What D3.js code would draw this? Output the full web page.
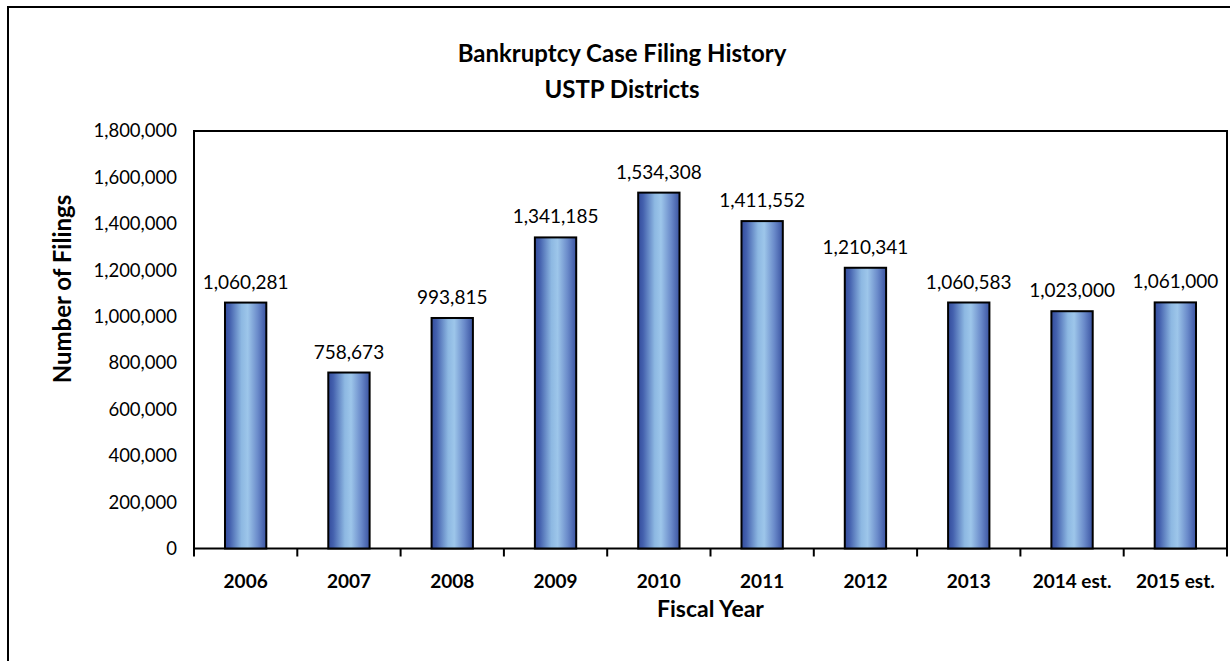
<!DOCTYPE html>
<html>
<head>
<meta charset="utf-8">
<script src="https://cdn.jsdelivr.net/npm/d3@7"></script>
<style>
  body { margin: 0; background: #fff; }
  svg { display: block; font-family: Lato, "Open Sans", sans-serif; }
</style>
</head>
<body>
<svg id="chart" width="1230" height="661"></svg>
<script>
// values
var years = ["2006", "2007", "2008", "2009", "2010", "2011", "2012", "2013", "2014 est.", "2015 est."];
var filings = [1060281, 758673, 993815, 1341185, 1534308, 1411552, 1210341, 1060583, 1023000, 1061000];
var yTicks = [0, 200000, 400000, 600000, 800000, 1000000, 1200000, 1400000, 1600000, 1800000];

var plot = {left: 194, top: 131, right: 1227, bottom: 548.5};

var svg = d3.select("#chart");

// bar gradient, dark edges and light middle
var grad = svg.append("defs").append("linearGradient")
    .attr("id", "barGrad")
    .attr("x1", 0).attr("x2", 1).attr("y1", 0).attr("y2", 0);
[[0, "#334c9c"], [0.12, "#4461ae"], [0.4, "#8db8e2"], [0.55, "#9dc6ea"], [0.8, "#6989c9"], [1, "#3a53a1"]]
    .forEach(function(s) {
        grad.append("stop").attr("offset", s[0]).attr("stop-color", s[1]);
    });

// outer chart border (runs off the page on the right and bottom)
svg.append("rect")
    .attr("x", 8).attr("y", 7)
    .attr("width", 1300).attr("height", 700)
    .attr("fill", "none")
    .attr("stroke", "#000")
    .attr("stroke-width", 2);

var x = d3.scaleBand()
    .domain(years)
    .range([plot.left, plot.right])
    .padding(0);

var y = d3.scaleLinear()
    .domain([0, 1800000])
    .range([plot.bottom, plot.top]);

var barW = x.bandwidth() * 0.4;

// plot area box
svg.append("rect")
    .attr("x", plot.left).attr("y", plot.top)
    .attr("width", plot.right - plot.left)
    .attr("height", plot.bottom - plot.top)
    .attr("fill", "none")
    .attr("stroke", "#000")
    .attr("stroke-width", 2);

// Y axis labels
svg.append("g")
    .attr("transform", "translate(" + plot.left + ",0)")
    .call(d3.axisLeft(y).tickValues(yTicks).tickSize(0).tickPadding(17).tickFormat(d3.format(",")))
    .call(function(g) { g.select(".domain").remove(); })
    .selectAll("text")
    .attr("font-size", 18.5)
    .attr("font-family", "Lato, sans-serif")
    .attr("fill", "#000");

// X axis labels centred in each band
svg.append("g")
    .attr("transform", "translate(0," + plot.bottom + ")")
    .call(d3.axisBottom(x).tickSize(0).tickPadding(26))
    .call(function(g) { g.select(".domain").remove(); })
    .selectAll("text")
    .attr("font-size", 19)
    .attr("font-weight", "bold")
    .attr("font-family", "Lato, sans-serif")
    .attr("fill", "#000");

// tick marks sit on the band boundaries
var bounds = years.map(function(d) { return x(d); }).concat([x(years[years.length - 1]) + x.bandwidth()]);
svg.append("g").selectAll("line")
    .data(bounds)
    .enter().append("line")
    .attr("x1", function(d) { return d; })
    .attr("x2", function(d) { return d; })
    .attr("y1", plot.bottom)
    .attr("y2", plot.bottom + 8)
    .attr("stroke", "#000")
    .attr("stroke-width", 2);

// bars
svg.append("g").selectAll("rect")
    .data(filings)
    .enter().append("rect")
    .attr("x", function(d, i) { return x(years[i]) + (x.bandwidth() - barW) / 2; })
    .attr("y", function(d) { return y(d); })
    .attr("width", barW)
    .attr("height", function(d) { return y(0) - y(d); })
    .attr("fill", "url(#barGrad)")
    .attr("stroke", "#000")
    .attr("stroke-width", 2);

// value labels
svg.append("g").selectAll("text")
    .data(filings)
    .enter().append("text")
    .attr("x", function(d, i) { return x(years[i]) + x.bandwidth() / 2; })
    .attr("y", function(d) { return y(d) - 14; })
    .attr("text-anchor", "middle")
    .attr("font-size", 19)
    .text(function(d) { return d3.format(",")(d); });

// titles
svg.append("text")
    .attr("x", 622).attr("y", 62)
    .attr("text-anchor", "middle")
    .attr("font-size", 24)
    .attr("font-weight", "bold")
    .text("Bankruptcy Case Filing History");
svg.append("text")
    .attr("x", 622).attr("y", 98)
    .attr("text-anchor", "middle")
    .attr("font-size", 24)
    .attr("font-weight", "bold")
    .text("USTP Districts");

svg.append("text")
    .attr("x", (plot.left + plot.right) / 2).attr("y", 617)
    .attr("text-anchor", "middle")
    .attr("font-size", 23)
    .attr("font-weight", "bold")
    .text("Fiscal Year");

svg.append("text")
    .attr("transform", "translate(71,289) rotate(-90)")
    .attr("text-anchor", "middle")
    .attr("font-size", 24)
    .attr("font-weight", "bold")
    .text("Number of Filings");
</script>
</body>
</html>
